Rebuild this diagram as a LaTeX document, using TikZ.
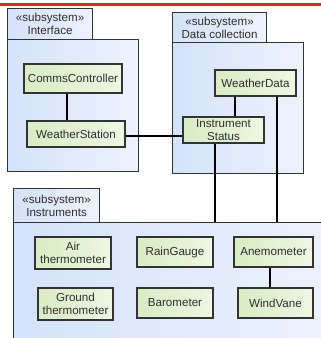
\documentclass[tikz,border=0pt]{standalone}
\usepackage{fontspec}
\setmainfont{Liberation Sans}
\definecolor{linegray}{HTML}{333333}
\definecolor{txtgray}{HTML}{2E2E2E}
\definecolor{blueA}{HTML}{D4E2FA}
\definecolor{blueB}{HTML}{EEF3FD}
\definecolor{greenA}{HTML}{D9ECC4}
\definecolor{greenB}{HTML}{EEF7E3}
\definecolor{redbar}{HTML}{E8202A}
\newcommand\dfont{\fontsize{11.6bp}{13bp}\selectfont}
\begin{document}
\begin{tikzpicture}[x=1bp,y=-1bp,
  pkgbody/.style={draw=linegray, line width=1.2bp, left color=blueA, right color=blueB,
    rectangle, anchor=north west, inner sep=0pt},
  pkgtab/.style={draw=linegray, line width=1.2bp, left color=blueA, right color=blueB,
    rectangle, anchor=north west, inner sep=0pt, align=center, font=\dfont, text=txtgray},
  comp/.style={draw=linegray, line width=1.3bp, left color=greenA, right color=greenB,
    rectangle, inner sep=0pt, align=center, font=\dfont, text=txtgray},
  conn/.style={draw=black, line width=1.3bp}]
\clip (0,0) rectangle (321,338);
\fill[redbar] (0,3) rectangle (321,6);

% Interface package
\node[pkgbody, minimum width=131bp, minimum height=132bp] (ifb) at (7,39) {};
\node[pkgtab, minimum width=85bp, minimum height=31bp] (ift) at (7,8) {«subsystem»\\Interface};
% Data collection package
\node[pkgbody, minimum width=131bp, minimum height=131bp] (dcb) at (172,42) {};
\node[pkgtab, minimum width=94bp, minimum height=30bp] (dct) at (172,12) {«subsystem»\\Data collection};
% Instruments package
\node[pkgbody, minimum width=330bp, minimum height=130bp] (insb) at (13,222) {};
\node[pkgtab, minimum width=86bp, minimum height=34bp] (inst) at (13,188) {«subsystem»\\Instruments};

% components
\node[comp, minimum width=98bp, minimum height=29bp] (cc) at (73,78.5) {CommsController};
\node[comp, minimum width=98bp, minimum height=26bp] (ws) at (76,134) {WeatherStation};
\node[comp, minimum width=81bp, minimum height=26bp] (wd) at (255.5,83) {WeatherData};
\node[comp, minimum width=81bp, minimum height=26bp] (is) at (223.5,130) {Instrument\\Status};

\node[comp, minimum width=76bp, minimum height=32bp] (air) at (73,253) {Air\\thermometer};
\node[comp, minimum width=76bp, minimum height=30bp] (rg) at (175,252) {RainGauge};
\node[comp, minimum width=79bp, minimum height=30bp] (an) at (273.5,252) {Anemometer};
\node[comp, minimum width=75bp, minimum height=32bp] (gt) at (75.5,304) {Ground\\thermometer};
\node[comp, minimum width=76bp, minimum height=30bp] (bar) at (175,303) {Barometer};
\node[comp, minimum width=75bp, minimum height=30bp] (wv) at (275.5,303) {WindVane};

% connectors
\draw[conn] ([xshift=-6bp]cc.south) -- ([xshift=-6bp]cc.south |- ws.north);
\draw[conn] ([yshift=-2bp]ws.east) -- ([yshift=-2bp]ws.east -| is.west);
\draw[conn] ([xshift=-20.5bp]wd.south) -- ([xshift=-20.5bp]wd.south |- is.north);
\draw[conn] ([xshift=-8.5bp]is.south) -- ([xshift=-8.5bp]is.south |- insb.north);
\draw[conn] ([xshift=21.5bp]wd.south) -- ([xshift=21.5bp]wd.south |- insb.north);
\draw[conn] ([xshift=-3.5bp]an.south) -- ([xshift=-3.5bp]an.south |- wv.north);
\end{tikzpicture}
\end{document}
